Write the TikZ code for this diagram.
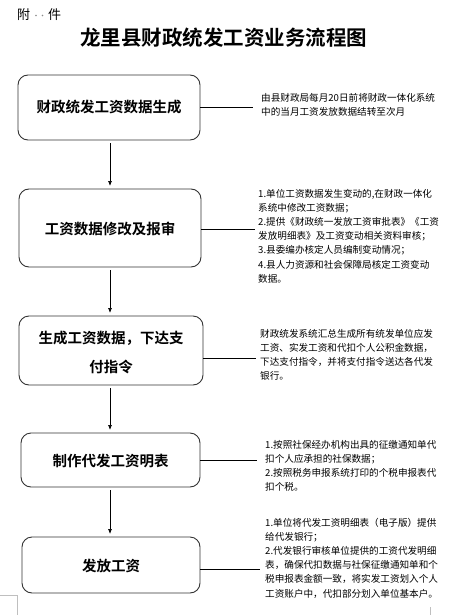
\documentclass[tikz,border=0pt]{standalone}
\usepackage{fontspec}
\setmainfont{Noto Sans CJK SC}
\newfontfamily\cjkb{Noto Sans CJK SC Bold}
\usetikzlibrary{arrows.meta}
\begin{document}
\begin{tikzpicture}[x=1pt,y=-1pt,
  stepbox/.style={draw=black!80,line width=0.9pt,rounded corners=10pt,inner sep=0pt},
  boxtext/.style={font=\cjkb\fontsize{14.5}{29}\selectfont,align=center},
  desc/.style={font=\fontsize{9.6}{14.2}\selectfont,align=left,anchor=west,inner sep=0pt},
  link/.style={draw=black,line width=0.7pt},
  flow/.style={draw=black,line width=0.7pt,-{Latex[length=5pt,width=4pt]},shorten <=3pt,shorten >=3pt},
  marginmark/.style={draw=black!25,line width=0.6pt},
  headtxt/.style={anchor=west,inner sep=0pt,font=\fontsize{13}{13}\selectfont}
]
\useasboundingbox (0,0) rectangle (470,615);
\fill[white] (0,0) rectangle (470,615);

% header
\node[headtxt] (att1) at (17,15) {附};
\node[headtxt] (att2) at (48,15) {件};
\fill[black!45] (36,15.5) circle (0.9);
\fill[black!45] (42.5,15.5) circle (0.9);
\node[inner sep=0pt,font=\cjkb\fontsize{20.5}{20.5}\selectfont] (title) at (223.5,38) {龙里县财政统发工资业务流程图};

% boxes
\draw[stepbox] (18,75) rectangle (200,140);
\node[boxtext] (b1) at (109,107.5) {财政统发工资数据生成};
\coordinate (b1n) at (110,75); \coordinate (b1s) at (110,140);

\draw[stepbox] (19,189) rectangle (201,267);
\node[boxtext] (b2) at (110,229) {工资数据修改及报审};
\coordinate (b2n) at (110,189); \coordinate (b2s) at (110,267);

\draw[stepbox] (19,316) rectangle (203,385);
\node[boxtext] (b3) at (111,352) {生成工资数据，下达支\\付指令};
\coordinate (b3n) at (110,316); \coordinate (b3s) at (110,385);

\draw[stepbox] (21,433) rectangle (200,487);
\node[boxtext] (b4) at (110.5,461) {制作代发工资明表};
\coordinate (b4n) at (110,433); \coordinate (b4s) at (110,487);

\draw[stepbox] (22,537) rectangle (200,593);
\node[boxtext] (b5) at (111,566) {发放工资};
\coordinate (b5n) at (110,537);

% box right edges
\coordinate (r1) at (200,107); \coordinate (r2) at (201,229);
\coordinate (r3) at (203,358); \coordinate (r4) at (200,460);
\coordinate (r5) at (200,569);

% arrows
\draw[flow] (b1s) -- (b2n);
\draw[flow] (b2s) -- (b3n);
\draw[flow] (b3s) -- (b4n);
\draw[flow] (b4s) -- (b5n);

% connector ends
\coordinate (e1) at (253,107);
\coordinate (e2) at (255,229);
\coordinate (e3) at (256,358);
\coordinate (e4) at (257,460);
\coordinate (e5) at (260,569);
\draw[link] (r1) -- (e1);
\draw[link] (r2) -- (e2);
\draw[link] (r3) -- (e3);
\draw[link] (r4) -- (e4);
\draw[link] (r5) -- (e5);

% descriptions
\node[desc] (d1) at (261,105) {由县财政局每月20日前将财政一体化系统\\中的当月工资发放数据结转至次月};
\node[desc] (d2) at (258,236) {1.单位工资数据发生变动的,在财政一体化\\系统中修改工资数据；\\2.提供《财政统一发放工资审批表》《工资\\发放明细表》及工资变动相关资料审核；\\3.县委编办核定人员编制变动情况；\\4.县人力资源和社会保障局核定工资变动\\数据。};
\node[desc] (d3) at (260,355) {财政统发系统汇总生成所有统发单位应发\\工资、实发工资和代扣个人公积金数据，\\下达支付指令，并将支付指令送达各代发\\银行。};
\node[desc] (d4) at (265,466) {1.按照社保经办机构出具的征缴通知单代\\扣个人应承担的社保数据；\\2.按照税务申报系统打印的个税申报表代\\扣个税。};
\node[desc] (d5) at (265,558) {1.单位将代发工资明细表（电子版）提供\\给代发银行；\\2.代发银行审核单位提供的工资代发明细\\表，确保代扣数据与社保征缴通知单和个\\税申报表金额一致，将实发工资划入个人\\工资账户中，代扣部分划入单位基本户。};

% page margin marks
\coordinate (m1) at (0,595); \coordinate (m2) at (17,595); \coordinate (m3) at (17,615);
\draw[marginmark] (m1) -- (m2) -- (m3);
\coordinate (m4) at (430,607); \coordinate (m5) at (430,615);
\draw[marginmark] (m4) -- (m5);
\end{tikzpicture}
\end{document}
